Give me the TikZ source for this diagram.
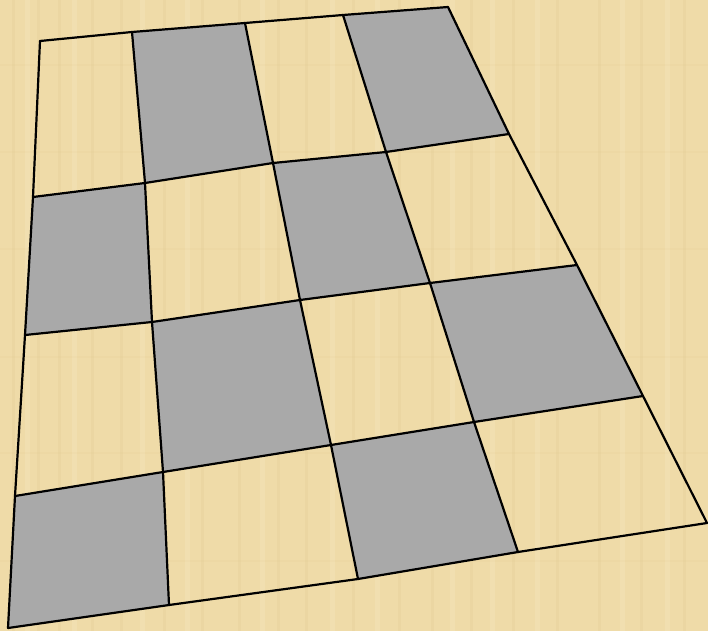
\documentclass[tikz,border=0pt]{standalone}
\usetikzlibrary{calc}
\definecolor{papyrus}{RGB}{239,219,168}
\definecolor{papyrusdark}{RGB}{222,196,138}
\definecolor{papyruslight}{RGB}{246,232,192}
\definecolor{tile}{RGB}{169,169,169}
\tikzset{
  gridline/.style={draw=black, line width=2.2pt, line join=round, line cap=round},
  darktile/.style={fill=tile},
}
\begin{document}
\begin{tikzpicture}[x=1pt,y=-1pt]
\fill[papyrus] (0,0) rectangle (708,631);
\useasboundingbox (0,0) rectangle (708,631);
% faint texture
\foreach \x in {12,37,58,91,120,163,201,238,277,305,352,398,431,470,512,556,598,640,683}{
  \fill[papyrusdark, opacity=0.18] (\x,0) rectangle ++(3,631);
}
\foreach \x in {25,72,140,185,260,330,375,450,490,535,620,665}{
  \fill[papyruslight, opacity=0.35] (\x,0) rectangle ++(5,631);
}
\foreach \y in {64,151,248,356,452,560}{
  \fill[papyrusdark, opacity=0.10] (0,\y) rectangle ++(708,2);
}
% grid points p-row-col
\coordinate (p-0-0) at (40,41);  \coordinate (p-0-1) at (132,32); \coordinate (p-0-2) at (245,23); \coordinate (p-0-3) at (343,15); \coordinate (p-0-4) at (448,7);
\coordinate (p-1-0) at (33,197); \coordinate (p-1-1) at (145,183); \coordinate (p-1-2) at (273,163); \coordinate (p-1-3) at (386,152); \coordinate (p-1-4) at (509,134);
\coordinate (p-2-0) at (25,335); \coordinate (p-2-1) at (152,322); \coordinate (p-2-2) at (300,300); \coordinate (p-2-3) at (430,283); \coordinate (p-2-4) at (577,265);
\coordinate (p-3-0) at (15,496); \coordinate (p-3-1) at (163,472); \coordinate (p-3-2) at (331,445); \coordinate (p-3-3) at (474,422); \coordinate (p-3-4) at (643,396);
\coordinate (p-4-0) at (8,628);  \coordinate (p-4-1) at (169,605); \coordinate (p-4-2) at (358,579); \coordinate (p-4-3) at (518,552); \coordinate (p-4-4) at (707,523);
% dark tiles
\foreach \i/\j in {0/1,0/3,1/0,1/2,2/1,2/3,3/0,3/2}{
  \pgfmathtruncatemacro{\ii}{\i+1}
  \pgfmathtruncatemacro{\jj}{\j+1}
  \fill[darktile] (p-\i-\j) -- (p-\i-\jj) -- (p-\ii-\jj) -- (p-\ii-\j) -- cycle;
}
% lines
\foreach \i in {0,...,4}{
  \draw[gridline] (p-\i-0) -- (p-\i-1) -- (p-\i-2) -- (p-\i-3) -- (p-\i-4);
  \draw[gridline] (p-0-\i) -- (p-1-\i) -- (p-2-\i) -- (p-3-\i) -- (p-4-\i);
}
\end{tikzpicture}
\end{document}
